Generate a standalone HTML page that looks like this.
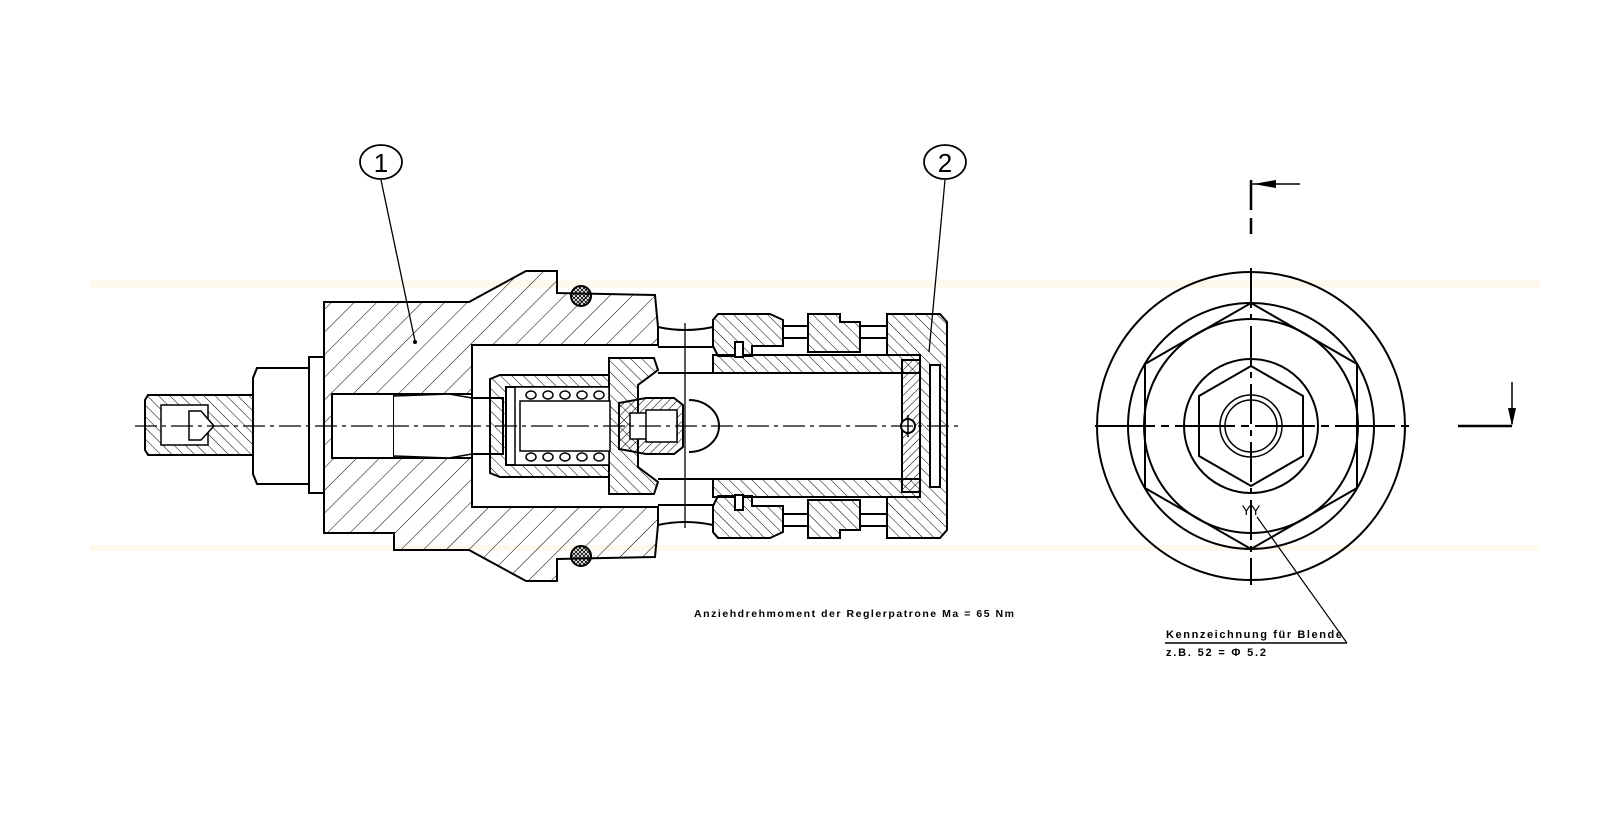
<!DOCTYPE html>
<html><head><meta charset="utf-8"><style>
html,body{margin:0;padding:0;background:#fff;width:1613px;height:833px;overflow:hidden}
svg{display:block}
text{font-family:"Liberation Sans",sans-serif;fill:#000}
</style></head><body>
<svg width="1613" height="833" viewBox="0 0 1613 833" xmlns="http://www.w3.org/2000/svg">
<defs>
<pattern id="h1" patternUnits="userSpaceOnUse" width="16" height="16" patternTransform="rotate(45)"><line x1="0" y1="0" x2="0" y2="16" stroke="#000" stroke-width="1"/></pattern>
<pattern id="h2" patternUnits="userSpaceOnUse" width="8" height="8" patternTransform="rotate(-45)"><line x1="0" y1="0" x2="0" y2="8" stroke="#000" stroke-width="1"/></pattern>
<pattern id="h3" patternUnits="userSpaceOnUse" width="6" height="6" patternTransform="rotate(45)"><line x1="0" y1="0" x2="0" y2="6" stroke="#000" stroke-width="1"/></pattern>
<pattern id="x" patternUnits="userSpaceOnUse" width="4" height="4"><path d="M0 0L4 4M4 0L0 4" stroke="#000" stroke-width="0.8"/></pattern>
</defs>
<g fill="#fdf8e8" opacity="0.8">
<rect x="90" y="280" width="1450" height="8"/>
<rect x="90" y="545" width="1450" height="6"/>
</g>
<g stroke="#000" stroke-width="2" fill="none">
<path fill="url(#h1)" d="M324,302 L469,302 L526,271 L557,271 L557,293 L655,295 L658,327 L658,345 L472,345 L472,507 L658,507 L658,525 L655,557 L557,559 L557,581 L526,581 L469,550 L394,550 L394,533 L324,533 Z"/>
<path fill="#fff" d="M332,394 L472,394 L472,458 L332,458 Z"/>
<line x1="394" y1="394" x2="394" y2="458"/>
<line x1="449" y1="394" x2="449" y2="458" stroke-width="1"/>
<circle cx="581" cy="296" r="10" fill="url(#x)"/>
<circle cx="581" cy="556" r="10" fill="url(#x)"/>
<rect x="309" y="357" width="15" height="136" fill="#fff"/>
<path d="M257,368 L309,368 L309,484 L257,484 L253,474 L253,378 Z" fill="#fff"/>
<path d="M148,395 L253,395 L253,455 L148,455 L145,450 L145,400 Z" fill="url(#h2)"/>
<rect x="161" y="405" width="47" height="40" fill="#fff" stroke-width="1.5"/>
<path d="M189,411 L201,411 L214,426 L201,440 L189,440 Z" fill="#fff" stroke-width="1.5"/>
<path d="M394,396 L449,394 L472,398 L472,454 L449,458 L394,456" fill="#fff" stroke-width="1.5"/>
<rect x="472" y="398" width="31" height="56" fill="#fff"/>
<path d="M658,327 Q685,333 713,327"/>
<path d="M658,347 L713,347"/>
<path d="M658,525 Q685,519 713,525"/>
<path d="M658,505 L713,505"/>
<path fill="url(#h2)" d="M490,379 L500,375 L609,375 L609,387 L506,387 L506,465 L609,465 L609,477 L500,477 L490,473 Z"/>
<path fill="url(#h2)" d="M609,358 L654,358 L658,370 L638,385 L638,467 L658,482 L654,494 L609,494 Z"/>
<rect x="515" y="387" width="94" height="78" fill="#fff" stroke-width="1.5"/>
<rect x="520" y="401" width="90" height="50" fill="#fff" stroke-width="1.5"/>
<g stroke-width="1.5">
<ellipse cx="531" cy="395" rx="5" ry="4"/><ellipse cx="548" cy="395" rx="5" ry="4"/><ellipse cx="565" cy="395" rx="5" ry="4"/><ellipse cx="582" cy="395" rx="5" ry="4"/><ellipse cx="599" cy="395" rx="5" ry="4"/>
<ellipse cx="531" cy="457" rx="5" ry="4"/><ellipse cx="548" cy="457" rx="5" ry="4"/><ellipse cx="565" cy="457" rx="5" ry="4"/><ellipse cx="582" cy="457" rx="5" ry="4"/><ellipse cx="599" cy="457" rx="5" ry="4"/>
</g>
<path fill="url(#h3)" d="M619,403 L646,398 L674,398 L683,405 L683,447 L674,454 L646,454 L619,449 Z"/>
<rect x="630" y="413" width="47" height="26" fill="#fff" stroke-width="1.5"/>
<rect x="646" y="410" width="31" height="32" fill="#fff" stroke-width="1.5"/>
<path d="M689,400 A30,26 0 0 1 689,452" fill="#fff"/>
<path fill="url(#h2)" d="M713,355 L920,355 L920,373 L713,373 Z"/>
<path fill="url(#h2)" d="M713,479 L920,479 L920,497 L713,497 Z"/>
<line x1="658" y1="373" x2="713" y2="373"/>
<line x1="658" y1="479" x2="713" y2="479"/>
<path fill="url(#h2)" d="M718,314 L770,314 L783,320 L783,346 L752,346 L752,356 L718,356 L713,346 L713,320 Z"/>
<path fill="url(#h2)" d="M808,314 L840,314 L840,322 L860,322 L860,352 L808,352 Z"/>
<path fill="url(#h2)" d="M887,314 L940,314 L947,322 L947,530 L940,538 L887,538 L887,497 L920,497 L920,355 L887,355 Z"/>
<path fill="url(#h2)" d="M718,538 L770,538 L783,532 L783,506 L752,506 L752,496 L718,496 L713,506 L713,532 Z"/>
<path fill="url(#h2)" d="M808,538 L840,538 L840,530 L860,530 L860,500 L808,500 Z"/>
<rect x="735" y="342" width="8" height="15" fill="#fff"/>
<rect x="735" y="495" width="8" height="15" fill="#fff"/>
<rect x="783" y="326" width="25" height="12" fill="#fff"/>
<rect x="860" y="326" width="27" height="12" fill="#fff"/>
<rect x="783" y="514" width="25" height="12" fill="#fff"/>
<rect x="860" y="514" width="27" height="12" fill="#fff"/>
<rect x="902" y="360" width="18" height="132" fill="url(#h3)"/>
<rect x="930" y="365" width="10" height="122" fill="#fff"/>
<circle cx="908" cy="426" r="7" fill="#fff"/>
<line x1="908" y1="415" x2="908" y2="437" stroke-width="1.5"/>
</g>
<g stroke="#000" stroke-width="1.3" fill="none">
<line x1="135" y1="426" x2="960" y2="426" stroke-dasharray="22,5,4,5"/>
<line x1="685" y1="323" x2="685" y2="528"/>
<line x1="381" y1="180" x2="415" y2="341"/>
<line x1="945" y1="180" x2="929" y2="352"/>
</g>
<circle cx="415" cy="342" r="2" fill="#000"/>
<g stroke="#000" stroke-width="1.8" fill="#fff">
<ellipse cx="381" cy="162" rx="21" ry="17"/>
<ellipse cx="945" cy="162" rx="21" ry="17"/>
</g>
<text x="381" y="172" font-size="26" text-anchor="middle">1</text>
<text x="945" y="172" font-size="26" text-anchor="middle">2</text>
<text x="694" y="617" font-size="10.5" font-weight="bold" textLength="320" lengthAdjust="spacing">Anziehdrehmoment  der  Reglerpatrone  Ma  =  65  Nm</text>
<g stroke="#000" stroke-width="2" fill="none">
<circle cx="1251" cy="426" r="154"/>
<circle cx="1251" cy="426" r="123"/>
<polygon points="1251,303 1357,364 1357,488 1251,549 1145,488 1145,364"/>
<circle cx="1251" cy="426" r="107"/>
<circle cx="1251" cy="426" r="67"/>
<polygon points="1251,366 1303,396 1303,456 1251,486 1199,456 1199,396"/>
<circle cx="1251" cy="426" r="31" stroke-width="1.5"/>
<circle cx="1251" cy="426" r="26" stroke-width="1.5"/>
</g>
<g stroke="#000" stroke-width="2" fill="none">
<line x1="1251" y1="268" x2="1251" y2="585" stroke-dasharray="40,6,6,6"/>
<line x1="1095" y1="426" x2="1410" y2="426" stroke-dasharray="60,6,8,6"/>
<line x1="1251" y1="180" x2="1251" y2="210" stroke-width="2.5"/>
<line x1="1251" y1="218" x2="1251" y2="234" stroke-width="2.5"/>
<line x1="1251" y1="184" x2="1300" y2="184" stroke-width="1.5"/>
<line x1="1458" y1="426" x2="1512" y2="426" stroke-width="2.5"/>
<line x1="1512" y1="382" x2="1512" y2="424" stroke-width="1.5"/>
<line x1="1257" y1="517" x2="1347" y2="643" stroke-width="1.2"/>
<line x1="1165" y1="643" x2="1347" y2="643" stroke-width="1.5"/>
</g>
<polygon points="1253,184 1276,180 1276,188" fill="#000"/>
<polygon points="1512,426 1508,408 1516,408" fill="#000"/>
<text x="1251" y="515" font-size="14" text-anchor="middle">YY</text>
<text x="1166" y="638" font-size="11" font-weight="bold" textLength="176" lengthAdjust="spacing">Kennzeichnung  für  Blende</text>
<text x="1166" y="656" font-size="11" font-weight="bold" textLength="100" lengthAdjust="spacing">z.B.  52  =  Φ  5.2</text>
</svg>
</body></html>
